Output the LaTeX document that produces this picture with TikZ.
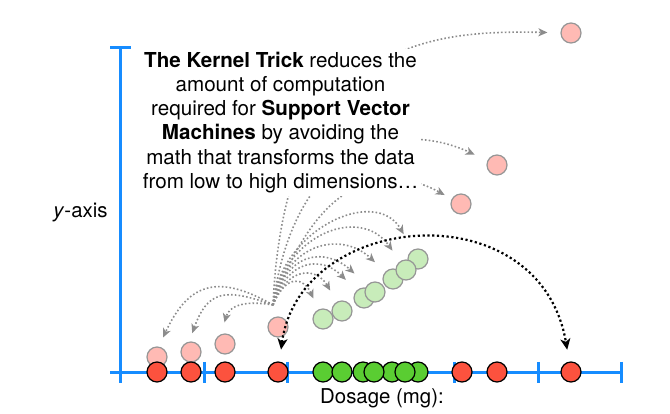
\documentclass[tikz,border=0pt]{standalone}
\usepackage{fontspec}
\setmainfont{TeX Gyre Heros}
\usetikzlibrary{arrows.meta}
\definecolor{axisblue}{RGB}{22,140,255}
\definecolor{ptred}{RGB}{252,82,62}
\definecolor{ptgreen}{RGB}{90,205,50}
\definecolor{ptpink}{RGB}{255,186,180}
\definecolor{ptlgreen}{RGB}{200,236,186}
\definecolor{ringgray}{RGB}{150,150,150}
\definecolor{arrowgray}{RGB}{140,140,140}
\begin{document}
\begin{tikzpicture}[x=1pt,y=-1pt,
  axisline/.style={draw=axisblue,line width=3pt},
  dot/.style={circle,inner sep=0pt,minimum size=20pt,line width=1.2pt},
  reddot/.style={dot,fill=ptred,draw=black},
  greendot/.style={dot,fill=ptgreen,draw=black},
  pinkdot/.style={dot,fill=ptpink,draw=ringgray},
  lgreendot/.style={dot,fill=ptlgreen,draw=ringgray},
  grayarrow/.style={draw=arrowgray,line width=1.6pt,dash pattern=on 1.6pt off 2.2pt,
     -{Stealth[length=9pt,width=8pt,inset=2.5pt]}},
  blackarrow/.style={draw=black,line width=2.2pt,dash pattern=on 2.2pt off 2.6pt,
     {Stealth[length=11pt,width=10pt,inset=3pt]}-{Stealth[length=11pt,width=10pt,inset=3pt]}},
  caption/.style={fill=white,align=center,inner xsep=3pt,inner ysep=3pt,
     font=\fontsize{20.6}{24.3}\selectfont},
  lbl/.style={inner sep=0pt,font=\fontsize{20.4}{24}\selectfont}
]
\useasboundingbox (0,0) rectangle (670,414);
% axes
\draw[axisline] (120,48) -- (120,383);
\draw[axisline] (110,48) -- (131,48);
\draw[axisline] (110,372) -- (621,372);
\foreach \x in {204,287,454,538,621} \draw[axisline] (\x,362) -- (\x,383);
% low pink points
\node[pinkdot] (p1) at (157,357) {};
\node[pinkdot] (p2) at (191,352) {};
\node[pinkdot] (p3) at (225,344) {};
\node[pinkdot] (p4) at (278,327) {};
% red points on axis
\foreach \n/\x in {1/157,2/191,3/225,4/278,5/462,6/497,7/571}
  \node[reddot] (r\n) at (\x,372) {};
% green points on axis
\foreach \n/\x in {1/323,2/342,3/363,5/392,7/418,4/374,6/405}
  \node[greendot] (g\n) at (\x,372) {};
% light green points
\foreach \n/\x/\y in {1/323/319,2/342/311,3/364/298,5/393/279,7/418/259,4/375/292,6/406/270}
  \node[lgreendot] (l\n) at (\x,\y) {};
% fan origin
\coordinate (fan) at (273,305);
% arrows to green points
\foreach \k/\o/\a/\d/\s in {1/67/115/35/12,2/70/120/41/13,3/73/135/49/15,4/76/138/56/17,5/79/137/62/14,6/82/125/70/13,7/85/120/75/18}
  \draw[grayarrow,shorten >=\s pt] (fan) to[out=\o,in=\a,distance=\d pt] (l\k.\a);
% arrows to low pink points
\foreach \k/\o/\a/\i/\d/\s in {1/150/80/65/67/10,2/160/100/70/53/9,3/170/110/75/29/12}
  \draw[grayarrow,shorten >=\s pt] (fan) to[out=\o,in=\i,distance=\d pt] (p\k.\a);
% high pink points
\node[pinkdot] (u1) at (571,33) {};
\node[pinkdot] (u2) at (497,165) {};
\node[pinkdot] (u3) at (461,204) {};
\draw[grayarrow,shorten >=8pt] (fan) .. controls (320,170) and (390,165) .. (u3);
\draw[grayarrow,shorten >=14pt] (fan) .. controls (295,140) and (400,120) .. (u2);
\draw[grayarrow,shorten >=13pt] (fan) .. controls (285,40) and (430,30) .. (u1);
% black double arrow
\draw[blackarrow,shorten <=12pt,shorten >=12pt] (r4) .. controls (300,210) and (540,190) .. (r7);
% texts
\node[caption,anchor=north] (cap) at (280.5,48.5) {\textbf{The Kernel Trick} reduces the\\
amount of computation\\
required for \textbf{Support Vector}\\
\textbf{Machines} by avoiding the\\
math that transforms the data\\
from low to high dimensions…};
\node[lbl] (ylab) at (80.5,213) {\textit{y}-axis};
\node[lbl] (xlab) at (382,398) {Dosage (mg):};
\end{tikzpicture}
\end{document}
